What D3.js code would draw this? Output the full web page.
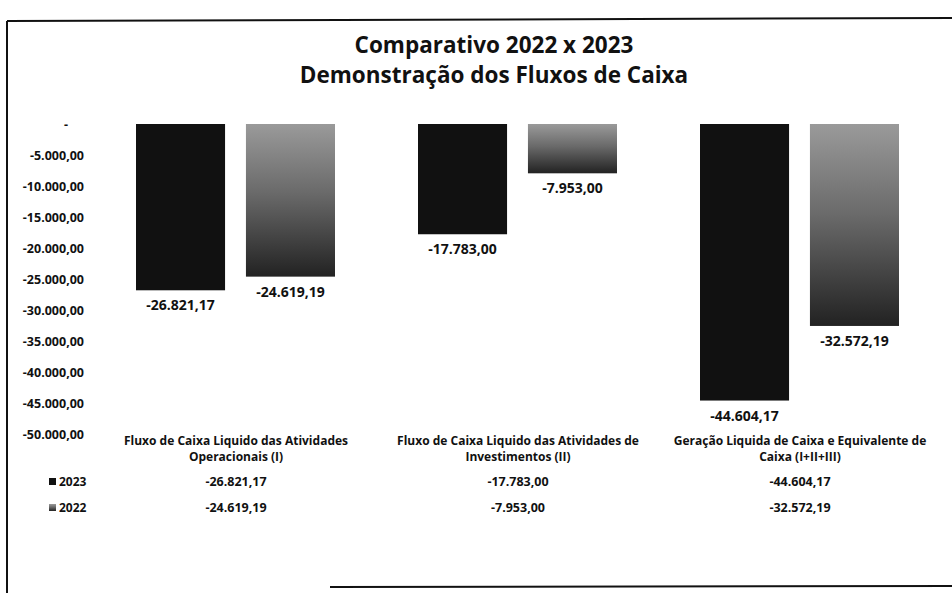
<!DOCTYPE html>
<html>
<head>
<meta charset="utf-8">
<script src="https://cdn.jsdelivr.net/npm/d3@7"></script>
<style>
  html, body { margin: 0; padding: 0; background: #fff; }
  svg { display: block; }
  text { font-family: "Open Sans", Lato, sans-serif; font-weight: 700; fill: #111; }
</style>
</head>
<body>
<svg id="chart" width="952" height="593"></svg>
<script>
// ---- data ----
const titleLines = ["Comparativo 2022 x 2023", "Demonstração dos Fluxos de Caixa"];
const categories = [
  ["Fluxo de Caixa Liquido das Atividades", "Operacionais (I)"],
  ["Fluxo de Caixa Liquido das Atividades de", "Investimentos (II)"],
  ["Geração Liquida de Caixa e Equivalente de", "Caixa (I+II+III)"]
];
const seriesNames = ["2023", "2022"];
const values2023 = [-26821.17, -17783.00, -44604.17];
const values2022 = [-24619.19, -7953.00, -32572.19];
const yTicks = [0, -5000, -10000, -15000, -20000, -25000, -30000, -35000, -40000, -45000, -50000];

const seriesValues = [values2023, values2022];
const seriesFill = ["#111111", "url(#grad2022)"];

const svg = d3.select("#chart");
const W = 952, H = 593;

// gradient for 2022 bars
const defs = svg.append("defs");
const g2 = defs.append("linearGradient").attr("id", "grad2022")
  .attr("x1", 0).attr("y1", 0).attr("x2", 0).attr("y2", 1);
g2.append("stop").attr("offset", "0%").attr("stop-color", "#9a9a9a");
g2.append("stop").attr("offset", "45%").attr("stop-color", "#6a6a6a");
g2.append("stop").attr("offset", "100%").attr("stop-color", "#222222");

// frame
svg.append("line").attr("x1", 7).attr("y1", 21).attr("x2", W).attr("y2", 18)
  .attr("stroke", "#111").attr("stroke-width", 2);
svg.append("line").attr("x1", 7).attr("y1", 21).attr("x2", 7).attr("y2", H)
  .attr("stroke", "#111").attr("stroke-width", 2);
svg.append("line").attr("x1", 330).attr("y1", 587).attr("x2", W).attr("y2", 586)
  .attr("stroke", "#111").attr("stroke-width", 2);

// title
svg.append("text").attr("x", 494).attr("y", 53).attr("text-anchor", "middle")
  .style("font-size", "22.5px").text(titleLines[0]);
svg.append("text").attr("x", 494).attr("y", 83).attr("text-anchor", "middle")
  .style("font-size", "22.5px").text(titleLines[1]);

// scales
const y = d3.scaleLinear().domain([0, -50000]).range([124, 434]);
const x0 = d3.scaleBand().domain(d3.range(categories.length)).range([95, 941]).padding(0);
const x1 = d3.scaleBand().domain(d3.range(seriesNames.length))
  .range([41, 240]).paddingInner(0.19).paddingOuter(0);

const fmt = v => {
  if (v === 0) return "-";
  const s = d3.format(",.2f")(Math.abs(v)).replace(/,/g, "#").replace(/\./g, ",").replace(/#/g, ".");
  return (v < 0 ? "-" : "") + s;
};

// y axis
const yAxis = svg.append("g").attr("transform", "translate(84,0)")
  .call(d3.axisLeft(y).tickValues(yTicks).tickFormat(fmt).tickSize(0).tickPadding(0));
yAxis.select(".domain").remove();
yAxis.selectAll("text")
  .style("font-family", "'Open Sans', Lato, sans-serif")
  .style("font-weight", "700").style("font-size", "12.5px").attr("fill", "#111")
  .attr("dx", d => d === 0 ? -16 : 0);

// bars
const groups = svg.append("g").selectAll("g").data(categories).join("g")
  .attr("transform", (d, i) => `translate(${x0(i)},0)`);

seriesNames.forEach((s, si) => {
  groups.append("rect")
    .attr("x", x1(si))
    .attr("width", x1.bandwidth())
    .attr("y", (d, i) => y(0))
    .attr("height", (d, i) => y(seriesValues[si][i]) - y(0))
    .attr("fill", seriesFill[si]);
  groups.append("text")
    .attr("x", x1(si) + x1.bandwidth() / 2)
    .attr("y", (d, i) => y(seriesValues[si][i]) + 20)
    .attr("text-anchor", "middle")
    .style("font-size", "14px")
    .text((d, i) => fmt(seriesValues[si][i]));
});

// data table: category labels
groups.each(function(d, i) {
  const g = d3.select(this);
  d.forEach((line, li) => {
    g.append("text").attr("x", x0.bandwidth() / 2).attr("y", 445 + li * 16)
      .attr("text-anchor", "middle").style("font-size", "12px").text(line);
  });
  seriesNames.forEach((s, si) => {
    g.append("text").attr("x", x0.bandwidth() / 2).attr("y", 486 + si * 26)
      .attr("text-anchor", "middle").style("font-size", "12.5px")
      .text(fmt(seriesValues[si][i]));
  });
});

// legend keys in the table
seriesNames.forEach((s, si) => {
  const yy = 486 + si * 26;
  svg.append("rect").attr("x", 49).attr("y", yy - 8).attr("width", 7).attr("height", 7)
    .attr("fill", seriesFill[si]);
  svg.append("text").attr("x", 59).attr("y", yy).style("font-size", "12px").text(s);
});
</script>
</body>
</html>
